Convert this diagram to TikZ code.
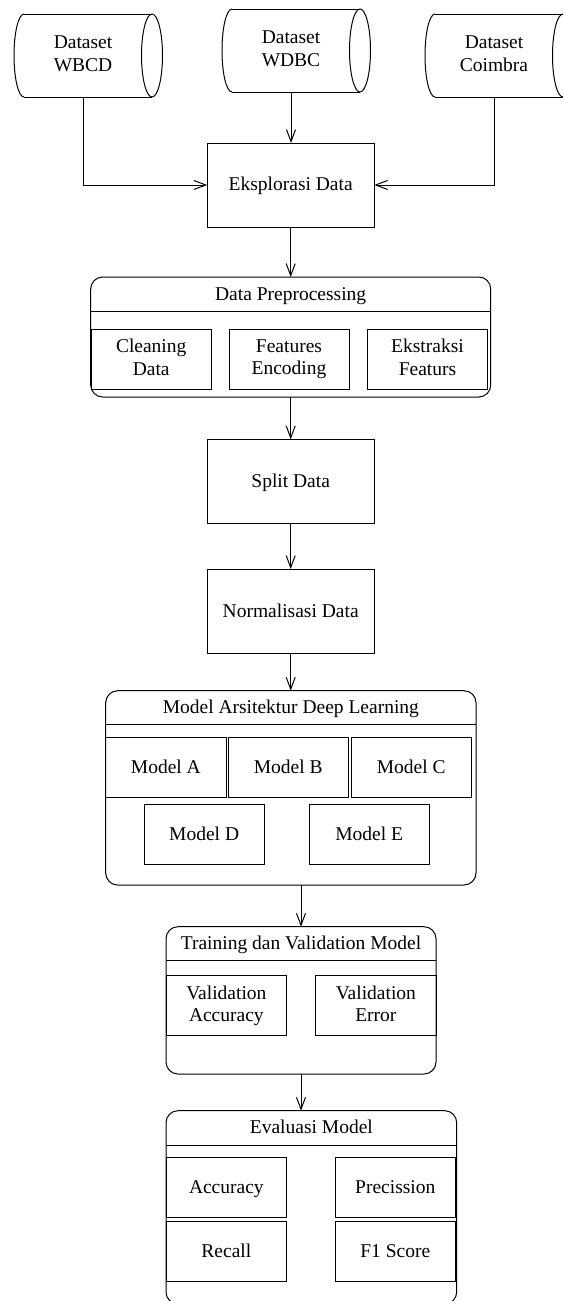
\documentclass[tikz,border=0pt]{standalone}
\usepackage{fontspec}
\setmainfont{Liberation Serif}
\usetikzlibrary{arrows.meta,calc}
\newcommand\mystrut{\rule[-3.75pt]{0pt}{19.5pt}}
\newcommand\mydbshape[1]{%
  \draw[ln] ($(#1.north west)+(10,0)$) -- (#1.north east);
  \draw[ln] ($(#1.south west)+(10,0)$) -- (#1.south east);
  \draw[ln] ($(#1.north west)+(10,0)$) arc[start angle=90,end angle=270,x radius=10pt,y radius=41.5pt];
  \draw[ln] (#1.east) ellipse [x radius=10.5pt, y radius=41.5pt];
}
\begin{document}
\begin{tikzpicture}[x=1pt,y=-1pt,
  every node/.style={font=\fontsize{19.5}{22.5}\selectfont, inner sep=0pt, outer sep=0pt, align=center},
  ln/.style={line width=1pt, draw=black},
  box/.style={ln, rectangle, execute at begin node=\mystrut, execute at end node=\mystrut},
  cont/.style={ln, rectangle, rounded corners=12pt},
  db/.style={rectangle, minimum width=138pt, minimum height=83pt, execute at begin node=\mystrut, execute at end node=\mystrut},
  arr/.style={ln, -{Straight Barb[length=12pt,width=9pt]}},
  lbl/.style={execute at begin node=\mystrut}
]
\useasboundingbox (0,0) rectangle (563,1301);
\clip (0,0) rectangle (563,1301);

% datasets
\node[db] (wbcd) at (83,55.5) {Dataset\\WBCD};
\node[db] (wdbc) at (291,50.5) {Dataset\\WDBC};
\node[db] (coim) at (494,55.5) {Dataset\\Coimbra};
\mydbshape{wbcd}
\mydbshape{wdbc}
\mydbshape{coim}

% eksplorasi
\node[box, minimum width=167pt, minimum height=84pt] (eks) at (290.7,185) {Eksplorasi Data};

% preprocessing
\node[cont, minimum width=400pt, minimum height=120pt] (prep) at (290.7,337) {};
\draw[ln] (prep.west |- 0,311.7) -- (prep.east |- 0,311.7);
\node[lbl] (prept) at (290.7,294.35) {Data Preprocessing};
\node[box, minimum width=120pt, minimum height=60pt] (clean) at (151.2,359) {Cleaning\\Data};
\node[box, minimum width=120pt, minimum height=60pt] (fenc) at (289,359) {Features\\Encoding};
\node[box, minimum width=120pt, minimum height=60pt] (ekst) at (427.5,359) {Ekstraksi\\Featurs};

% split / normalisasi
\node[box, minimum width=167pt, minimum height=84pt] (split) at (290.7,481.3) {Split Data};
\node[box, minimum width=167pt, minimum height=84pt] (norm) at (290.7,611) {Normalisasi Data};

% model
\node[cont, minimum width=370.3pt, minimum height=194.3pt] (model) at (290.85,787.85) {};
\draw[ln] (model.west |- 0,724.3) -- (model.east |- 0,724.3);
\node[lbl] (modelt) at (290.85,707.5) {Model Arsitektur Deep Learning};
\node[box, minimum width=120.3pt, minimum height=60pt] (ma) at (165.85,767.3) {Model A};
\node[box, minimum width=120pt, minimum height=60pt] (mb) at (288.3,767.3) {Model B};
\node[box, minimum width=120pt, minimum height=60pt] (mc) at (411.3,767.3) {Model C};
\node[box, minimum width=120.3pt, minimum height=60pt] (md) at (204.15,834.3) {Model D};
\node[box, minimum width=120.3pt, minimum height=60pt] (me) at (369.15,834.3) {Model E};

% training
\node[cont, minimum width=270pt, minimum height=147.3pt] (train) at (301,1000.35) {};
\draw[ln] (train.west |- 0,960) -- (train.east |- 0,960);
\node[lbl] (traint) at (301,943.35) {Training dan Validation Model};
\node[box, minimum width=120.7pt, minimum height=60pt] (vacc) at (226.35,1005.7) {Validation\\Accuracy};
\node[box, minimum width=120.3pt, minimum height=60pt] (verr) at (375.85,1005.7) {Validation\\Error};

% evaluasi
\node[cont, minimum width=290.7pt, minimum height=193.3pt] (eval) at (311.35,1207.35) {};
\draw[ln] (eval.west |- 0,1145) -- (eval.east |- 0,1145);
\node[lbl] (evalt) at (311.35,1127.85) {Evaluasi Model};
\node[box, minimum width=120.7pt, minimum height=60pt] (acc) at (226.35,1187.7) {Accuracy};
\node[box, minimum width=120pt, minimum height=60pt] (prec) at (395.3,1187.7) {Precission};
\node[box, minimum width=120.7pt, minimum height=60pt] (rec) at (226.35,1251.7) {Recall};
\node[box, minimum width=120pt, minimum height=60pt] (f1) at (395.3,1251.7) {F1 Score};

% connectors
\draw[arr] (wbcd.south) |- (eks.west);
\draw[arr] (wdbc.south) -- (wdbc.south |- eks.north);
\draw[arr] (coim.south) |- (eks.east);
\draw[arr] (eks.south) -- (prep.north);
\draw[arr] (prep.south) -- (split.north);
\draw[arr] (split.south) -- (norm.north);
\draw[arr] (norm.south) -- (norm.south |- model.north);
\draw[arr] (model.south -| train.north) -- (train.north);
\draw[arr] (train.south) -- (train.south |- eval.north);
\end{tikzpicture}
\end{document}
